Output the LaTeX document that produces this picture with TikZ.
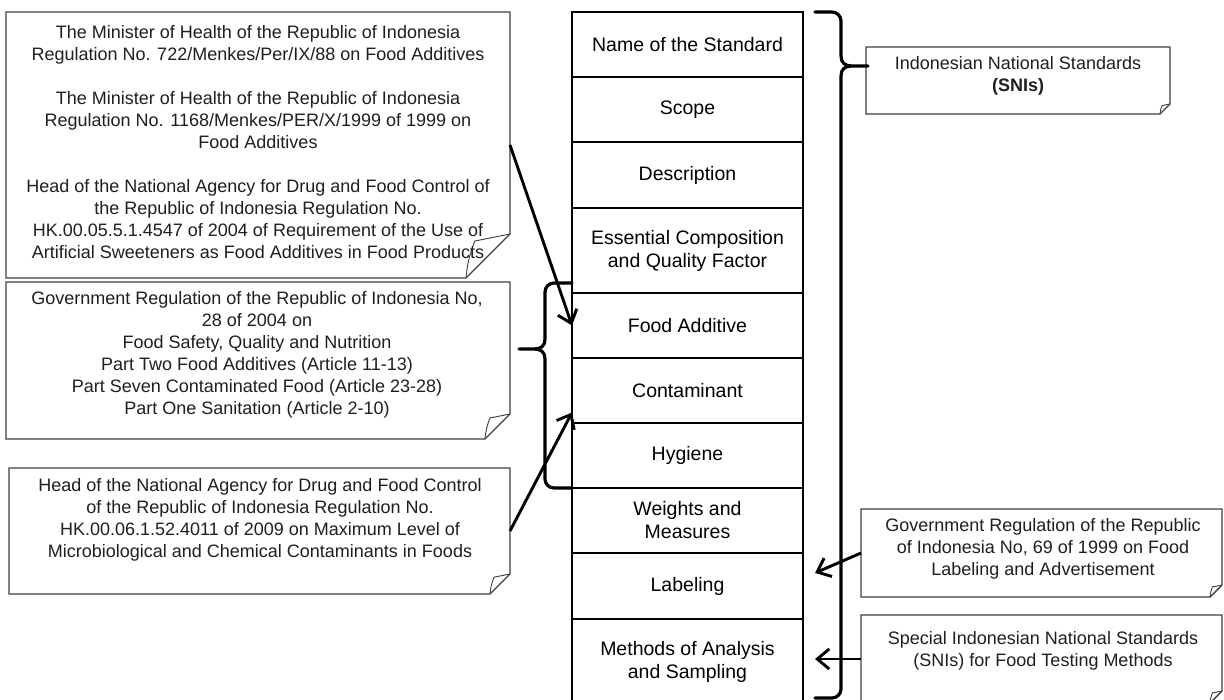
\documentclass[tikz,border=0pt]{standalone}
\usepackage{fontspec}
\setmainfont{Liberation Sans}
\usetikzlibrary{arrows.meta,calc}
\newcommand\foldframe[2]{%
  \draw[noteline] (#1.north west) -- (#1.north east) -- ([yshift=#2]#1.south east) -- ([xshift=-#2]#1.south east) -- (#1.south west) -- cycle;
  \draw[noteline, line width=0.9pt] ([yshift=#2]#1.south east) -- ([xshift=-0.8*#2,yshift=0.84*#2]#1.south east) to[bend right=8] ([xshift=-#2]#1.south east);}
\begin{document}
\begin{tikzpicture}[x=1pt,y=-1pt,
  row/.style={draw=black, line width=1.8pt, minimum width=231pt, outer sep=0pt, inner sep=0pt, align=center, font=\fontsize{19.5}{23}\selectfont, anchor=north west},
  boxframe/.style={draw=none, outer sep=0pt, inner sep=0pt},
  notetxt/.style={align=center, font=\fontsize{18}{22}\selectfont, text=black!88, inner sep=0pt},
  noteline/.style={draw=black!75, line width=1.4pt, line join=miter},
  brc/.style={line width=3.2pt, line join=round, line cap=round},
  arr/.style={line width=2.9pt, -{Straight Barb[length=12pt,width=20pt]}}
]
\clip (0,0) rectangle (1224,700);
\fill[white] (0,0) rectangle (1224,700);

% central column
\node[row, minimum height=65pt] (r1) at (572,12) {Name of the Standard};
\node[row, minimum height=65pt] (r2) at (572,77) {Scope};
\node[row, minimum height=66pt] (r3) at (572,142) {Description};
\node[row, minimum height=85pt] (r4) at (572,208) {Essential Composition\\and Quality Factor};
\node[row, minimum height=65pt] (r5) at (572,293) {Food Additive};
\node[row, minimum height=65pt] (r6) at (572,358) {Contaminant};
\node[row, minimum height=65pt] (r7) at (572,423) {Hygiene};
\node[row, minimum height=65pt] (r8) at (572,488) {Weights and\\Measures};
\node[row, minimum height=66pt] (r9) at (572,553) {Labeling};
\node[row, minimum height=85pt] (r10) at (572,619) {Methods of Analysis\\and Sampling};

% note boxes (frames)
\node[boxframe, minimum width=504pt, minimum height=266pt] (tl) at (258,145) {};
\node[boxframe, minimum width=504pt, minimum height=157pt] (gov) at (258,360.5) {};
\node[boxframe, minimum width=501pt, minimum height=126pt] (h2) at (259.5,531) {};
\node[boxframe, minimum width=304pt, minimum height=67pt] (snis) at (1018,80.5) {};
\node[boxframe, minimum width=361pt, minimum height=88pt] (lab) at (1041.5,553) {};
\node[boxframe, minimum width=361pt, minimum height=88pt] (spec) at (1041.5,659) {};
\foldframe{tl}{44pt}
\foldframe{gov}{25pt}
\foldframe{h2}{20pt}
\foldframe{snis}{10pt}
\foldframe{lab}{12pt}
\foldframe{spec}{12pt}

% note texts
\node[notetxt] (tltxt) at (258,142) {The Minister of Health of the Republic of Indonesia\\Regulation No. 722/Menkes/Per/IX/88 on Food Additives\\[22pt]The Minister of Health of the Republic of Indonesia\\Regulation No. 1168/Menkes/PER/X/1999 of 1999 on\\Food Additives\\[22pt]Head of the National Agency for Drug and Food Control of\\the Republic of Indonesia Regulation No.\\HK.00.05.5.1.4547 of 2004 of Requirement of the Use of\\Artificial Sweeteners as Food Additives in Food Products};
\node[notetxt] (govtxt) at (257,355) {Government Regulation of the Republic of Indonesia No,\\28 of 2004 on\\Food Safety, Quality and Nutrition\\Part Two Food Additives (Article 11-13)\\Part Seven Contaminated Food (Article 23-28)\\Part One Sanitation (Article 2-10)};
\node[notetxt] (h2txt) at (260,520) {Head of the National Agency for Drug and Food Control\\of the Republic of Indonesia Regulation No.\\HK.00.06.1.52.4011 of 2009 on Maximum Level of\\Microbiological and Chemical Contaminants in Foods};
\node[notetxt] (snistxt) at (1018,76) {Indonesian National Standards\\\textbf{(SNIs)}};
\node[notetxt] (labtxt) at (1043,549) {Government Regulation of the Republic\\of Indonesia No, 69 of 1999 on Food\\Labeling and Advertisement};
\node[notetxt] (spectxt) at (1043,651) {Special Indonesian National Standards\\(SNIs) for Food Testing Methods};

% right brace
\draw[brc] (815,12) -- (832,12) to[out=0,in=90] (841,21) -- (841,56)
  .. controls (841,63) and (845,66) .. (852,66) -- (868,66) -- (852,66)
  .. controls (845,66) and (841,69) .. (841,76) -- (841,689) to[out=-90,in=0] (832,698) -- (815,698);
% left brace
\draw[brc] (r5.north west) ++(0,-10) -- (554,283) to[out=180,in=90] (545,292) -- (545,339)
  .. controls (545,346) and (541,349) .. (534,349) -- (519,349) -- (534,349)
  .. controls (541,349) and (545,352) .. (545,359) -- (545,479) to[out=-90,in=180] (554,488) -- (r8.north west);

% arrows
\coordinate (m6) at ([yshift=-22pt]r6.west);
\coordinate (m9) at ([xshift=12pt,yshift=13pt]r9.east);
\coordinate (m10) at ([xshift=12pt]r10.east);
\draw[arr] (tl.east) -- (r5.west);
\draw[arr] (h2.east) -- (m6);
\draw[arr] (lab.west) -- (m9);
\draw[arr] (spec.west) -- (m10 |- spec.west);
\end{tikzpicture}
\end{document}
